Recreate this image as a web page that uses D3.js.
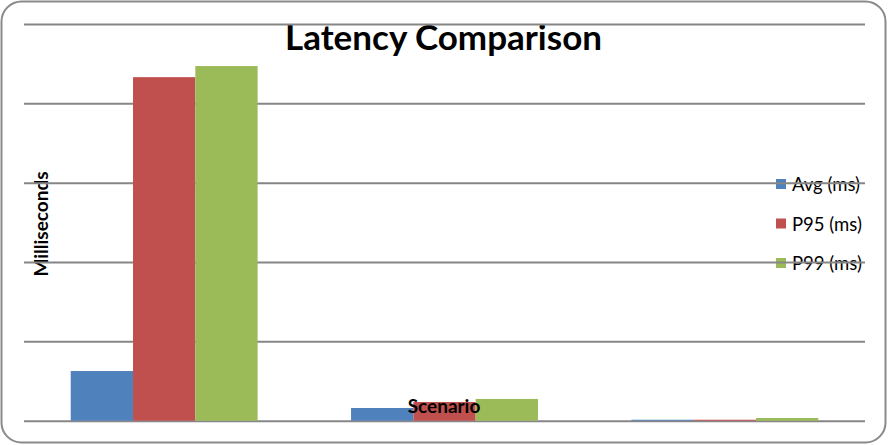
<!DOCTYPE html>
<html>
<head>
<meta charset="utf-8">
<script src="https://cdn.jsdelivr.net/npm/d3@7"></script>
<style>
  body { margin: 0; background: #fff; }
  svg { display: block; font-family: Lato, "Open Sans", sans-serif; }
</style>
</head>
<body>
<div id="chart"></div>
<script>
'use strict';

// values (no tick labels shown, so units are relative)
const scenarios = ['Scenario 1', 'Scenario 2', 'Scenario 3'];
const seriesNames = ['Avg (ms)', 'P95 (ms)', 'P99 (ms)'];
const avgValues = [62.6, 16, 1.2];
const p95Values = [433, 23.6, 1.2];
const p99Values = [447, 27.4, 3.4];
const yTicks = [0, 100, 200, 300, 400, 500];
const seriesColors = ['#4F81BD', '#C0504D', '#9BBB59'];

let w = 888, h = 445;
let plot = {left: 24, right: 865, top: 24, bottom: 420.7};

let svg = d3.select('#chart').append('svg')
    .attr('width', w).attr('height', h);

// outer chart frame
svg.append('rect')
    .attr('x', 1.5).attr('y', 1.5)
    .attr('width', w - 4).attr('height', h - 4)
    .attr('rx', 20).attr('ry', 20)
    .attr('fill', '#fff').attr('stroke', '#8a8a8a').attr('stroke-width', 2);

let x = d3.scaleBand().domain(scenarios)
    .range([plot.left, plot.right]).paddingInner(1.5 / 4.5).paddingOuter(0.75 / 4.5);
let xInner = d3.scaleBand().domain(seriesNames).range([0, x.bandwidth()]);
let y = d3.scaleLinear().domain([0, 500]).range([plot.bottom, plot.top]);

// title
svg.append('text')
    .attr('x', 443.5).attr('y', 50)
    .attr('text-anchor', 'middle')
    .style('font-weight', 'bold').style('font-size', '35px')
    .text('Latency Comparison');

// y axis title
svg.append('text')
    .attr('transform', 'translate(47.5,224) rotate(-90)')
    .attr('text-anchor', 'middle')
    .style('font-weight', 'bold').style('font-size', '19px')
    .text('Milliseconds');

// legend text (gridlines run over it, like the reference)
let legend = svg.append('g').attr('class', 'legend');
let legendY = d3.scalePoint().domain(seriesNames).range([184, 263]);
legend.selectAll('text').data(seriesNames).join('text')
    .attr('x', 792).attr('y', (d) => legendY(d) + 7)
    .style('font-size', '18.5px').attr('fill', '#000')
    .text((d) => d);

// gridlines (no tick labels)
let yAxis = d3.axisLeft(y).tickValues(yTicks)
    .tickSize(-(plot.right - plot.left)).tickFormat(() => '');
let gy = svg.append('g')
    .attr('transform', `translate(${plot.left},0)`)
    .call(yAxis);
gy.select('.domain').remove();
gy.selectAll('.tick line').attr('stroke', '#868686').attr('stroke-width', 2);

// bars
let seriesValues = [avgValues, p95Values, p99Values];
let rows = [];
seriesNames.forEach((s, i) => {
    scenarios.forEach((c, j) => {
        rows.push({scenario: c, series: s, value: seriesValues[i][j], color: seriesColors[i]});
    });
});
svg.append('g').selectAll('rect').data(rows).join('rect')
    .attr('x', (d) => x(d.scenario) + xInner(d.series))
    .attr('y', (d) => y(d.value))
    .attr('width', xInner.bandwidth())
    .attr('height', (d) => y(0) - y(d.value))
    .attr('fill', (d) => d.color);

// legend keys
legend.selectAll('rect').data(seriesNames).join('rect')
    .attr('x', 776).attr('y', (d) => legendY(d) - 5)
    .attr('width', 10).attr('height', 10)
    .attr('fill', (d, i) => seriesColors[i]);

// x axis title drawn over the bars
svg.append('text')
    .attr('x', 444).attr('y', 412.5)
    .attr('text-anchor', 'middle')
    .style('font-weight', 'bold').style('font-size', '19px')
    .text('Scenario');
</script>
</body>
</html>
